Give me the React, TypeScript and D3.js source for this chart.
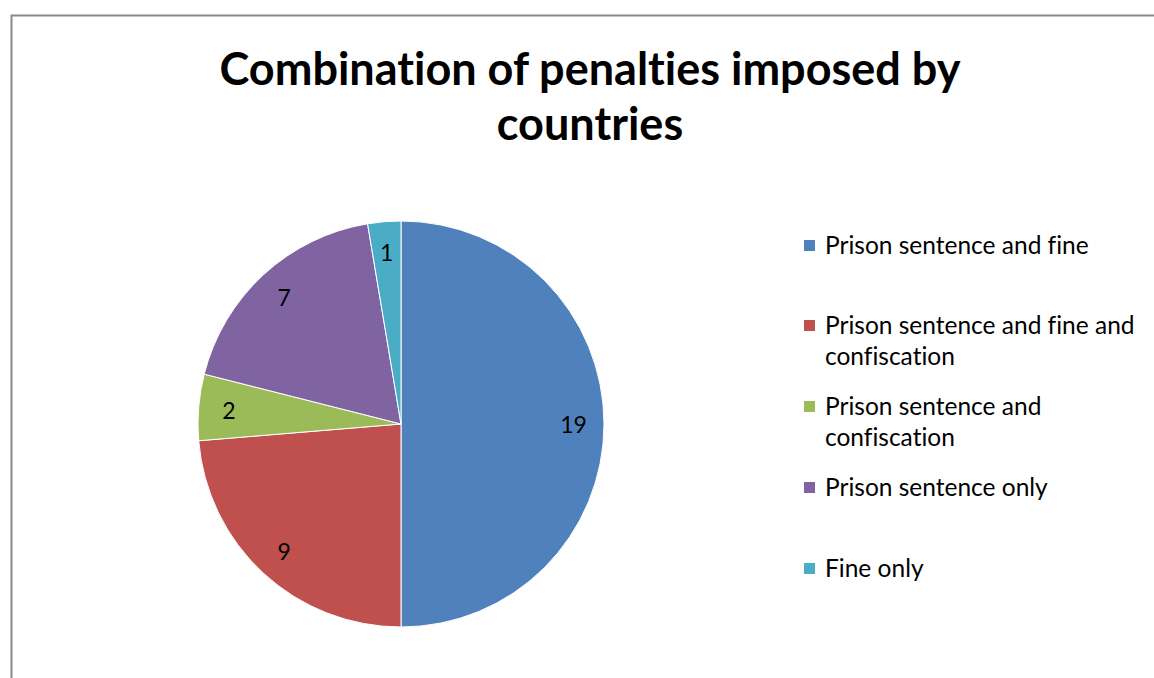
import React, { useEffect, useRef } from "react";
import * as d3 from "d3";

const categories = [
  "Prison sentence and fine",
  "Prison sentence and fine and confiscation",
  "Prison sentence and confiscation",
  "Prison sentence only",
  "Fine only",
];
const values = [19, 9, 2, 7, 1];
const colors = ["#4F81BD", "#C0504D", "#9BBB59", "#8064A2", "#4BACC6"];
const legendLines = [
  ["Prison sentence and fine"],
  ["Prison sentence and fine and", "confiscation"],
  ["Prison sentence and", "confiscation"],
  ["Prison sentence only"],
  ["Fine only"],
];
const legendY = [246, 326, 407, 488, 569];
const titleLines = ["Combination of penalties imposed by", "countries"];

const W = 1154;
const H = 678;
const FONT = "Lato, 'Open Sans', sans-serif";

export default function App() {
  const ref = useRef<SVGSVGElement | null>(null);

  useEffect(() => {
    const svg = d3.select(ref.current);
    svg.selectAll("*").remove();

    svg
      .append("rect")
      .attr("x", 11.5)
      .attr("y", 15.5)
      .attr("width", W + 20)
      .attr("height", H + 20)
      .attr("fill", "#fff")
      .attr("stroke", "#8a8a8a")
      .attr("stroke-width", 2);

    const title = svg
      .append("text")
      .attr("text-anchor", "middle")
      .attr("font-family", FONT)
      .attr("font-weight", "bold")
      .attr("font-size", 45)
      .style("font-variant-ligatures", "none")
      .attr("fill", "#000");
    titleLines.forEach((t, i) => {
      title
        .append("tspan")
        .attr("x", 590)
        .attr("y", 85 + i * 55)
        .text(t);
    });

    const cx = 401;
    const cy = 424;
    const r = 203;
    const pie = d3
      .pie<number>()
      .sort(null)
      .value((d) => d);
    const arcs = pie(values);
    const arc = d3.arc<d3.PieArcDatum<number>>().innerRadius(0).outerRadius(r);
    const labelArc = d3
      .arc<d3.PieArcDatum<number>>()
      .innerRadius(r * 0.85)
      .outerRadius(r * 0.85);

    const g = svg.append("g").attr("transform", `translate(${cx},${cy})`);
    g.selectAll("path.slice")
      .data(arcs)
      .enter()
      .append("path")
      .attr("class", "slice")
      .attr("d", arc)
      .attr("fill", (_d, i) => colors[i])
      .attr("stroke", "#fff")
      .attr("stroke-width", 1);

    g.selectAll("text.lbl")
      .data(arcs)
      .enter()
      .append("text")
      .attr("class", "lbl")
      .attr("transform", (d) => `translate(${labelArc.centroid(d)})`)
      .attr("text-anchor", "middle")
      .attr("dominant-baseline", "central")
      .attr("font-family", FONT)
      .attr("font-size", 23)
      .attr("fill", "#000")
      .text((d) => String(d.data));

    const lg = svg.append("g");
    categories.forEach((c, i) => {
      lg.append("rect")
        .attr("x", 804)
        .attr("y", legendY[i] - 6)
        .attr("width", 11)
        .attr("height", 11)
        .attr("fill", colors[i]);
      const t = lg
        .append("text")
        .attr("font-family", FONT)
        .attr("font-size", 24.5)
        .style("font-variant-ligatures", "none")
        .attr("fill", "#000")
        .attr("aria-label", c);
      legendLines[i].forEach((line, j) => {
        t.append("tspan")
          .attr("x", 825)
          .attr("y", legendY[i] + 8 + j * 31)
          .text(line);
      });
    });
  }, []);

  return (
    <svg
      ref={ref}
      width={W}
      height={H}
      style={{ position: "absolute", left: 0, top: 0, display: "block" }}
    />
  );
}
